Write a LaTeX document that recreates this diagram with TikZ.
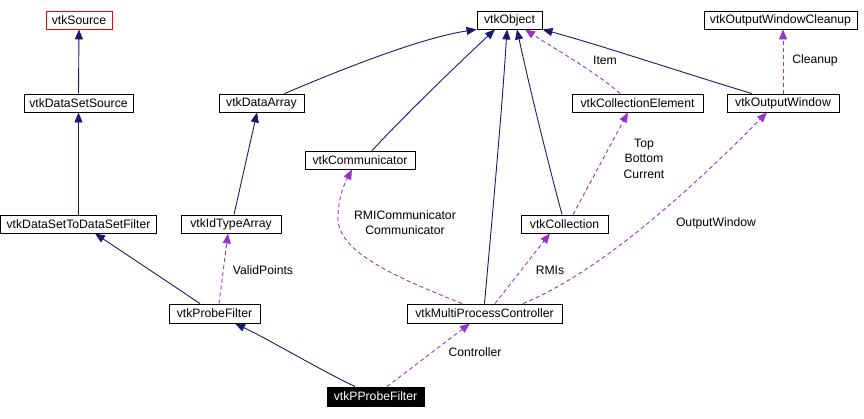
\documentclass[tikz,border=0pt]{standalone}
\usepackage{fontspec}
\setmainfont{Liberation Sans}
\usetikzlibrary{arrows.meta}
\definecolor{edgeblue}{RGB}{25,25,112}
\definecolor{edgepurple}{RGB}{153,50,204}
\begin{document}
\begin{tikzpicture}[x=1pt,y=-1pt,
  cls/.style={draw=black,line width=0.9pt,fill=white,inner sep=0pt,minimum height=18pt,
    font=\fontsize{12.2}{14}\selectfont,anchor=center},
  inh/.style={draw=edgeblue,line width=0.9pt,-{Triangle[length=10pt,width=8pt]}},
  use/.style={draw=edgepurple,line width=0.9pt,dash pattern=on 4pt off 3pt,
    -{Triangle[length=10pt,width=8pt,fill=edgepurple]}},
  lbl/.style={font=\fontsize{12.2}{15.5}\selectfont,align=center,inner sep=0pt}]
\useasboundingbox (0,0) rectangle (864,418);
% nodes
\node[cls,draw=red,minimum width=66pt] (src) at (79,20) {vtkSource};
\node[cls,minimum width=109pt] (dss) at (78.5,103) {vtkDataSetSource};
\node[cls,minimum width=85pt] (da) at (261.5,103) {vtkDataArray};
\node[cls,minimum width=65pt] (obj) at (509.5,20) {vtkObject};
\node[cls,minimum width=153pt] (owc) at (780.5,20) {vtkOutputWindowCleanup};
\node[cls,minimum width=131pt] (ce) at (637.5,103) {vtkCollectionElement};
\node[cls,minimum width=112pt] (ow) at (783,103) {vtkOutputWindow};
\node[cls,minimum width=110pt] (comm) at (360,160) {vtkCommunicator};
\node[cls,minimum width=87pt] (coll) at (564.5,224) {vtkCollection};
\node[cls,minimum width=156pt] (dsf) at (78.5,224) {vtkDataSetToDataSetFilter};
\node[cls,minimum width=100pt] (ita) at (231,224) {vtkIdTypeArray};
\node[cls,minimum width=91pt,minimum height=19pt] (pf) at (214.5,313.5) {vtkProbeFilter};
\node[cls,minimum width=155pt,minimum height=19pt] (mpc) at (484.5,313.5) {vtkMultiProcessController};
\node[cls,minimum width=97pt,minimum height=19pt,fill=black,text=white] (ppf) at (375.5,396.5) {vtkPProbeFilter};
% inheritance edges
\draw[inh] (dss.north) -- (src.south);
\draw[inh] (dsf.north) -- (dss.south);
\draw[inh] ([xshift=3pt]ita.north) -- ([xshift=-4.5pt]da.south);
\draw[inh] ([xshift=23pt]da.north) .. controls (340,70) and (420,38) .. (obj.south west);
\draw[inh] ([xshift=12pt]comm.north) .. controls (410,110) and (460,62) .. ([xshift=-14.5pt]obj.south);
\draw[inh] (mpc.north) .. controls (492,220) and (502,110) .. ([xshift=-2.5pt]obj.south);
\draw[inh] ([xshift=-2.5pt]coll.north) .. controls (550,170) and (530,90) .. ([xshift=7.5pt]obj.south);
\draw[inh] ([xshift=-31pt]ow.north) .. controls (690,75) and (600,45) .. (obj.south east);
\draw[inh] ([xshift=-14.5pt]pf.north) -- ([xshift=16.5pt]dsf.south);
\draw[inh] ([xshift=-20.5pt]ppf.north) .. controls (320,370) and (270,340) .. ([xshift=20.5pt]pf.south);
% usage edges
\draw[use] ([xshift=-17.5pt]ce.north) .. controls (600,75) and (560,52) .. ([xshift=15.5pt]obj.south);
\draw[use] (ow.north) -- ([xshift=2.5pt]owc.south);
\draw[use] ([xshift=8.5pt]coll.north) -- ([xshift=-9.5pt]ce.south);
\draw[use] ([xshift=-22.5pt]mpc.north) .. controls (390,275) and (335,250) .. (338,215)
   .. controls (339,195) and (344,185) .. ([xshift=-8pt]comm.south);
\draw[use] ([xshift=10.5pt]mpc.north) -- ([xshift=-14.5pt]coll.south);
\draw[use] ([xshift=38.5pt]mpc.north) .. controls (605,270) and (700,180) .. ([xshift=-16pt]ow.south);
\draw[use] ([xshift=11.5pt]ppf.north) -- ([xshift=-14.5pt]mpc.south);
\draw[use] ([xshift=4.5pt]pf.north) -- ([xshift=-3pt]ita.south);
% labels
\node[lbl] (lItem) at (605,60) {Item};
\node[lbl] (lClean) at (815,60) {Cleanup};
\node[lbl] (lTop) at (644,158.5) {Top\\Bottom\\Current};
\node[lbl] (lRMI) at (405,222.5) {RMICommunicator\\Communicator};
\node[lbl] (lOW) at (716,223) {OutputWindow};
\node[lbl] (lRMIs) at (550,270) {RMIs};
\node[lbl] (lVP) at (263,270) {ValidPoints};
\node[lbl] (lCtrl) at (475,352) {Controller};
\end{tikzpicture}
\end{document}
